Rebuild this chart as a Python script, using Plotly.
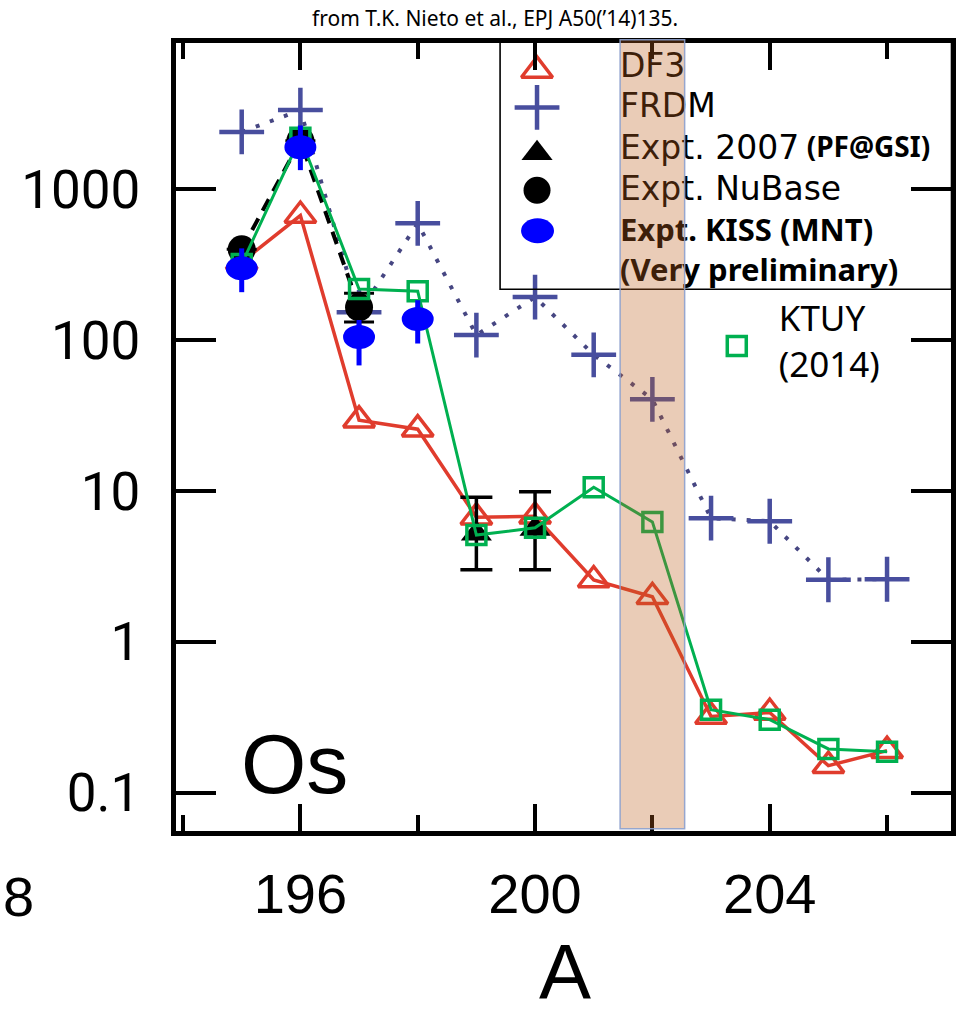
import plotly.graph_objects as go

# Mass number A of the Os isotopes
A = [195, 196, 197, 198, 199, 200, 201, 202, 203, 204, 205, 206]

# Model predictions (one value per isotope)
DF3 = [330, 670, 29.5, 25.7, 6.7, 6.8, 2.57, 1.99, 0.32, 0.34, 0.151, 0.19]
FRDM = [2400, 3350, 153, 595, 108, 193, 80, 40.5, 6.6, 6.3, 2.58, 2.6]
KTUY = [320, 2200, 218, 211, 5.1, 5.7, 10.6, 6.24, 0.355, 0.305, 0.195, 0.187]

# NuBase evaluation
A_NUBASE = [195, 196, 197]
NUBASE = [400, 2100, 165]
NUBASE_HI = [None, None, 205]
NUBASE_LO = [None, None, 132]

# Expt. 2007 (PF@GSI)
A_GSI = [199, 200]
GSI = [5.2, 5.6]
GSI_HI = [9.1, 9.9]
GSI_LO = [3.0, 3.0]

# Expt. KISS (MNT), very preliminary
A_KISS = [195, 196, 197, 198]
KISS = [300, 1900, 105, 138]
KISS_HI = [406, 2650, 136, 184]
KISS_LO = [208, 1340, 68, 95]

# Highlighted isotope band
BAND_A = [201.45, 202.55]

X_TICKS = [196, 200, 204]
Y_TICKS = [0.1, 1, 10, 100, 1000]
Y_TICK_TEXT = ["0.1", "1", "10", "100", "1000"]


def up(v, hi):
    return [None if h is None else h - x for x, h in zip(v, hi)]


def down(v, lo):
    return [None if l is None else x - l for x, l in zip(v, lo)]


# page geometry (px) of the plotting area
W, H = 959, 1019
L, R, T, B = 175.5, 951.5, 42.5, 831.5
X_RANGE = [193.88, 207.09]
Y_RANGE = [-1.254, 3.970]          # log10 units
DECADE_PX = (B - T) / (Y_RANGE[1] - Y_RANGE[0])
UNIT_PX = (R - L) / (X_RANGE[1] - X_RANGE[0])


def px(x):
    return (x - L) / (R - L)


def py(y):
    return (B - y) / (B - T)


RED = "rgb(224,60,45)"
SLATE = "rgb(72,78,158)"
DOTS = "rgb(70,70,130)"
GREEN = "#00B050"
BLUE = "#0000FF"

fig = go.Figure()

fig.add_trace(go.Scatter(
    x=A, y=FRDM, mode="lines+markers", name="FRDM",
    line=dict(color=DOTS, width=4, dash="4px,11px"),
    marker=dict(symbol="cross-thin", size=32, color=SLATE, line=dict(color=SLATE, width=4.5)),
))
fig.add_trace(go.Scatter(
    x=A, y=DF3, mode="lines+markers", name="DF3",
    line=dict(color=RED, width=3.5),
    marker=dict(symbol="triangle-up-open", size=27, color=RED, line=dict(color=RED, width=3.5)),
))
fig.add_trace(go.Scatter(
    x=A_NUBASE, y=NUBASE, mode="lines+markers", name="Expt. NuBase",
    line=dict(color="black", width=4, dash="13px,9px"),
    marker=dict(symbol="circle", size=28, color="black"),
    error_y=dict(type="data", symmetric=False, array=up(NUBASE, NUBASE_HI),
                 arrayminus=down(NUBASE, NUBASE_LO), color="black", thickness=3, width=15),
))
fig.add_trace(go.Scatter(
    x=A_GSI, y=GSI, mode="markers", name="Expt. 2007",
    marker=dict(symbol="triangle-up", size=27, color="black"),
    error_y=dict(type="data", symmetric=False, array=up(GSI, GSI_HI),
                 arrayminus=down(GSI, GSI_LO), color="black", thickness=3.5, width=16),
))
fig.add_trace(go.Scatter(
    x=A, y=KTUY, mode="lines+markers", name="KTUY",
    line=dict(color=GREEN, width=3),
    marker=dict(symbol="square-open", size=19, color=GREEN, line=dict(color=GREEN, width=3.5)),
))
fig.add_trace(go.Scatter(
    x=A_KISS, y=KISS, mode="markers", name="Expt. KISS",
    marker=dict(size=1, color=BLUE, opacity=0),
    error_y=dict(type="data", symmetric=False, array=up(KISS, KISS_HI),
                 arrayminus=down(KISS, KISS_LO), color=BLUE, thickness=5, width=0),
))

shapes = []
# KISS points drawn as ellipses (32 x 24 px) around each value
HALF_W = 16 / UNIT_PX
HALF_H = 10 ** (12 / DECADE_PX)
for a, v in zip(A_KISS, KISS):
    shapes.append(dict(type="circle", xref="x", yref="y",
                       x0=a - HALF_W, x1=a + HALF_W, y0=v / HALF_H, y1=v * HALF_H,
                       fillcolor=BLUE, line=dict(width=0), layer="above"))

# legend keys and texts live on an overlay axis pair measured in page pixels
fig.add_trace(go.Scatter(
    x=[537, 537, 537, 537], y=[70, 107, 153, 190], xaxis="x2", yaxis="y2", mode="markers",
    marker=dict(symbol=["triangle-up-open", "cross-thin", "triangle-up", "circle"],
                size=[27, 32, 27, 27], color=[RED, SLATE, "black", "black"], opacity=1,
                line=dict(color=[RED, SLATE, "black", "black"], width=[3.5, 4.5, 0, 0])),
    showlegend=False, hoverinfo="skip",
))
fig.add_trace(go.Scatter(
    x=[737], y=[346], xaxis="x2", yaxis="y2", mode="markers",
    marker=dict(symbol="square-open", size=19, color=GREEN, opacity=1, line=dict(color=GREEN, width=3.5)),
    showlegend=False, hoverinfo="skip",
))
shapes.append(dict(type="circle", xref="x2", yref="y2", x0=521, x1=554, y0=218, y1=243,
                   fillcolor=BLUE, line=dict(width=0), layer="above"))

fig.add_trace(go.Scatter(
    x=[620, 620, 620, 620], y=[68, 108, 150, 191], xaxis="x2", yaxis="y2", mode="text",
    text=["DF3", "FRDM", "Expt. 2007", "Expt. NuBase"], textposition="middle right",
    textfont=dict(family="DejaVu Sans", size=33, color="black"),
    showlegend=False, hoverinfo="skip",
))
fig.add_trace(go.Scatter(
    x=[807], y=[150], xaxis="x2", yaxis="y2", mode="text",
    text=["<b>(PF@GSI)</b>"], textposition="middle right",
    textfont=dict(family="Noto Sans", size=28, color="black"),
    showlegend=False, hoverinfo="skip",
))
fig.add_trace(go.Scatter(
    x=[620], y=[253], xaxis="x2", yaxis="y2", mode="text",
    text=["<b>Expt. KISS (MNT)</b><br><b>(Very preliminary)</b>"], textposition="middle right",
    textfont=dict(family="Noto Sans", size=31, color="black"),
    showlegend=False, hoverinfo="skip",
))
fig.add_trace(go.Scatter(
    x=[779], y=[345], xaxis="x2", yaxis="y2", mode="text",
    text=["KTUY<br>(2014)"], textposition="middle right",
    textfont=dict(family="Noto Sans", size=35, color="black"),
    showlegend=False, hoverinfo="skip",
))

# legend frame
shapes.append(dict(type="rect", xref="x2", yref="y2", x0=500, x1=952, y0=40, y1=289,
                   line=dict(color="black", width=1.6), fillcolor="rgba(0,0,0,0)", layer="above"))
# translucent band over A = 202
shapes.append(dict(type="rect", xref="x", yref="paper", x0=BAND_A[0], x1=BAND_A[1], y0=0.003, y1=1.004,
                   fillcolor="rgba(190,95,30,0.32)", line=dict(color="rgba(140,160,205,0.9)", width=1.5),
                   layer="above"))

annotations = [
    dict(text="from T.K. Nieto et al., EPJ A50(\u201914)135.", xref="paper", yref="paper",
         x=px(495), y=py(17), xanchor="center", yanchor="middle", showarrow=False,
         font=dict(family="Noto Sans", size=21, color="black")),
    dict(text="Os", xref="paper", yref="paper", x=px(239), y=py(764), xanchor="left", yanchor="middle",
         showarrow=False, font=dict(family="Liberation Sans", size=84, color="black")),
    dict(text="8", xref="paper", yref="paper", x=px(0), y=py(897), xanchor="left", yanchor="middle",
         showarrow=False, font=dict(family="Liberation Sans", size=56, color="black")),
    dict(text="A", xref="paper", yref="paper", x=px(565), y=py(1019), xanchor="center", yanchor="bottom",
         showarrow=False, font=dict(family="Liberation Sans", size=78, color="black")),
]

fig.update_layout(
    width=W, height=H,
    margin=dict(l=L, r=W - R, t=T, b=H - B, pad=0, autoexpand=False),
    paper_bgcolor="white", plot_bgcolor="white",
    showlegend=False,
    shapes=shapes, annotations=annotations,
    xaxis=dict(
        range=X_RANGE, showgrid=False, zeroline=False, automargin=False,
        showline=True, linewidth=5, linecolor="black", mirror="ticks",
        ticks="inside", ticklen=27, tickwidth=4, tickcolor="black",
        tickmode="array", tickvals=X_TICKS,
        minor=dict(ticks="inside", ticklen=16, tickwidth=4, tickcolor="black", tick0=194, dtick=2),
        tickfont=dict(family="Liberation Sans", size=56, color="black"),
        ticklabelstandoff=10,
    ),
    yaxis=dict(
        type="log", range=Y_RANGE, showgrid=False, zeroline=False, automargin=False,
        showline=True, linewidth=5, linecolor="black", mirror="ticks",
        ticks="inside", ticklen=40, tickwidth=4, tickcolor="black",
        tickmode="array", tickvals=Y_TICKS, ticktext=Y_TICK_TEXT,
        tickfont=dict(family="Roboto", size=53, color="black"),
        ticklabelstandoff=20,
    ),
    xaxis2=dict(range=[L, R], overlaying="x", visible=False, fixedrange=True),
    yaxis2=dict(range=[B, T], overlaying="y", visible=False, fixedrange=True),
)

fig.write_html("out.html")
